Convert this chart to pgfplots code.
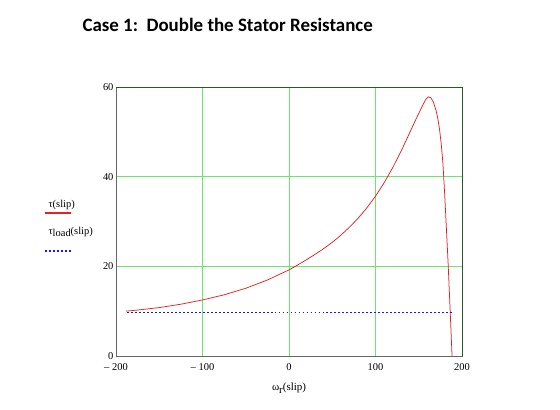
\documentclass[border=0pt]{standalone}
\usepackage{fontspec}
\setmainfont{Liberation Serif}
\newfontfamily\titlefont{Carlito}
\usepackage{pgfplots}
\pgfplotsset{compat=1.18}
\definecolor{gridgreen}{RGB}{110,230,110}
\definecolor{framegreen}{RGB}{40,90,40}
\definecolor{curvered}{RGB}{225,35,35}
\definecolor{tloadblue}{RGB}{20,20,255}
\begin{document}
\begin{tikzpicture}
\begin{axis}[
  at={(0,0)}, anchor=south west,
  scale only axis, width=346bp, height=269bp,
  xmin=-200, xmax=200, ymin=0, ymax=60,
  xtick={-200,-100,0,100,200},
  xticklabels={– 200,– 100,0,100,200},
  ytick={0,20,40,60},
  yticklabels={0,20,40,60},
  major tick length=0pt,
  grid=major,
  major grid style={gridgreen, line width=0.9pt},
  axis line style={black!60, line width=0.8pt},
  tick label style={font=\fontsize{10.5}{11}\selectfont},
  xticklabel style={yshift=-4pt},
  yticklabel style={xshift=1pt},
  /pgf/number format/assume math mode=true,
  clip=false,
  after end axis/.code={
    \draw[framegreen, line width=0.8pt] (rel axis cs:0,1) -- (rel axis cs:1,1) -- (rel axis cs:1,0);
  },
]
\addplot[color=curvered, line width=0.75pt, mark=none] coordinates {
(-188.5,10.0) (-175,10.25) (-150,10.8) (-125,11.55) (-100,12.5) (-75,13.65)
(-50,15.1) (-25,16.95) (0,19.2) (10,20.3) (20,21.45) (30,22.65) (40,23.95)
(50,25.35) (60,26.95) (70,28.75) (80,30.75) (90,33.05) (100,35.65) (110,38.65)
(120,42.05) (130,45.85) (140,50.0) (145,52.1) (150,54.1) (155,56.1) (158,57.2)
(161,57.8) (164,57.6) (167,56.6) (170,54.8) (172,53.0) (174,50.6) (176,47.3)
(178,42.8) (180,36.0) (182,28.3) (184,20.5) (186,11.5) (188.5,0)
};
\addplot[tloadblue, mark=none, line width=1.1pt, dash pattern=on 1.8pt off 2.2pt] coordinates {(-187,9.8) (0,9.8) (189,9.8)};
\end{axis}
\node[anchor=west, font=\titlefont\bfseries\fontsize{19}{21}\selectfont] at (-37bp,331bp) {Case 1:\ \ Double the Stator Resistance};
\node[anchor=west, font=\fontsize{10.5}{12}\selectfont] at (-71bp,151bp) {τ(slip)};
\draw[curvered, line width=1.2pt] (-71bp,143bp) -- (-45bp,143bp);
\node[anchor=west, font=\fontsize{10.5}{12}\selectfont] at (-71bp,124bp) {τ\raisebox{-0.45ex}{load}(slip)};
\draw[tloadblue, line width=1.1pt, dash pattern=on 1.8pt off 2.2pt] (-71bp,105bp) -- (-45bp,105bp);
\node[font=\fontsize{11}{12}\selectfont] at (173bp,-32bp) {ω\raisebox{-0.5ex}{r}(slip)};
\pgfresetboundingbox
\path (-116bp,-54bp) rectangle (444bp,356bp);
\end{tikzpicture}
\end{document}
